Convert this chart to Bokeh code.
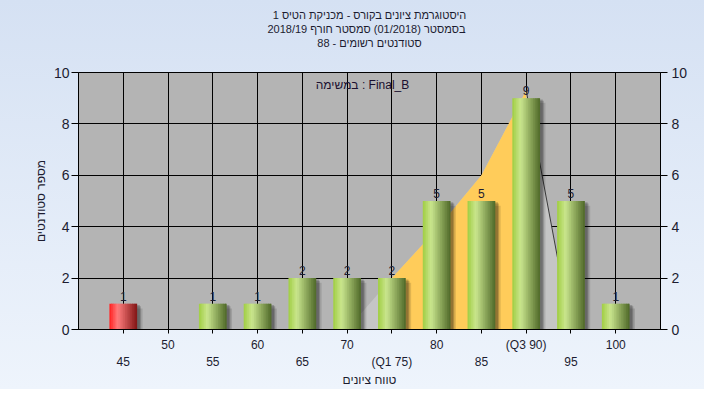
from bokeh.plotting import figure
from bokeh.models import Range1d, LinearAxis, FixedTicker, Label, Title, ColumnDataSource
from bokeh.embed import file_html
from bokeh.resources import INLINE
import numpy as np

# ---------------- data ----------------
title_lines = [
    "היסטוגרמת ציונים בקורס - מכניקת הטיס 1",
    "בסמסטר  (01/2018)  סמסטר חורף 2018/19",
    "סטודנטים רשומים - 88",
]
task_label = "במשימה : Final_B"
x_title = "טווח ציונים"
y_title = "מספר סטודנטים"

grades = [45, 50, 55, 60, 65, 70, 75, 80, 85, 90, 95, 100]
counts = [1, 0, 1, 1, 2, 2, 2, 5, 5, 9, 5, 1]
special_labels = {75: "(Q1 75)", 90: "(Q3 90)"}
q1, q3 = 75, 90
pass_grade = 55

curve_x = [70, 75, 80, 85, 90, 95, 100]
curve_y = [0, 2, 3.9, 6, 9.3, 0, 0]

y_ticks = [0, 2, 4, 6, 8, 10]

# ---------------- style ----------------
FONT = "Liberation Sans"
TXT = "#1c1c30"
BAR_W = 3.1
N_STRIPS = 16
X0, X1, Y0, Y1 = 40, 105, 0, 10


def ramp(t, left, hi, right, tpk=0.3):
    left, hi, right = map(np.array, (left, hi, right))
    if t <= tpk:
        c = left + (hi - left) * (t / tpk)
    else:
        c = hi + (right - hi) * ((t - tpk) / (1 - tpk))
    return "#%02x%02x%02x" % tuple(int(round(v)) for v in c)


p = figure(
    width=704, height=389,
    output_backend="svg", toolbar_location=None,
    x_range=Range1d(X0, X1), y_range=Range1d(Y0, Y1),
    title=None,
    min_border_left=78, min_border_right=44, min_border_top=72, min_border_bottom=59,
    background_fill_color="#b4b4b4",
    border_fill_color=None,
    outline_line_color="black",
    styles={"background": "linear-gradient(#d5e1f3, #eef4fc)"},
)

# spacer between frame and title block, then title lines nearest-first
p.add_layout(Title(text=" ", standoff=8, text_font=FONT, text_font_size="12px",
                   text_line_height=1.0), "above")
for line in reversed(title_lines):
    p.add_layout(Title(text=line, align="center", offset=-9, standoff=0,
                       text_font=FONT, text_font_size="11px", text_font_style="normal",
                       text_color=TXT, text_line_height=0.92), "above")

# grid
p.xgrid.ticker = FixedTicker(ticks=grades)
p.ygrid.ticker = FixedTicker(ticks=y_ticks)
for g in (p.xgrid, p.ygrid):
    g.grid_line_color = "black"
    g.grid_line_width = 1

# distribution area
p.varea(x=curve_x, y1=0, y2=curve_y, fill_color="#c5c5c5")
mid_x = [x for x in curve_x if q1 <= x <= q3]
mid_y = [y for x, y in zip(curve_x, curve_y) if q1 <= x <= q3]
p.varea(x=mid_x, y1=0, y2=mid_y, fill_color="#ffcc5a")
tail_x = [x for x in curve_x if x >= q3]
tail_y = [y for x, y in zip(curve_x, curve_y) if x >= q3]
p.line(x=tail_x, y=tail_y, line_color="#3a3a3a", line_width=1)

# shadows
g_arr = np.array(grades, dtype=float)
c_arr = np.array(counts, dtype=float)
nz = c_arr > 0
for dx, dy, a in ((0.6, 0.18, 0.12), (0.42, 0.1, 0.18), (0.3, 0.05, 0.2)):
    p.vbar(x=g_arr[nz] + dx, top=c_arr[nz] - dy, bottom=-1, width=BAR_W,
           fill_color="black", fill_alpha=a, line_color=None)

# bars with cylinder gradient (overlapping strips to avoid seams)
lefts, rights, tops, cols = [], [], [], []
sw = BAR_W / N_STRIPS
for k in range(N_STRIPS):
    tt = (k + 0.5) / N_STRIPS
    green = ramp(tt, (160, 205, 66), (202, 230, 142), (78, 104, 40))
    red = ramp(tt, (255, 30, 30), (255, 125, 125), (128, 20, 20))
    for g, c in zip(grades, counts):
        l = g - BAR_W / 2 + k * sw
        r = min(l + sw * 1.6, g + BAR_W / 2)
        lefts.append(l)
        rights.append(r)
        tops.append(c)
        cols.append(red if g < pass_grade else green)
src = ColumnDataSource(dict(left=lefts, right=rights, top=tops, color=cols))
p.quad(left="left", right="right", top="top", bottom=0, fill_color="color",
       line_color=None, source=src)

# value labels
lab = ColumnDataSource(dict(x=[g for g, c in zip(grades, counts) if c > 0],
                            y=[c for c in counts if c > 0],
                            t=[str(c) for c in counts if c > 0]))
p.text(x="x", y="y", text="t", source=lab, text_align="center", text_baseline="bottom",
       y_offset=-3, text_font_size="12px", text_color=TXT, text_font={"value": FONT})

p.add_layout(Label(x=(X0 + X1) / 2, y=9.5, x_offset=-7, text=task_label, text_align="center",
                   text_baseline="middle", text_font=FONT, text_font_size="12px",
                   text_color="#1a1030"))

# x axes (staggered labels)
ax1 = p.xaxis[0]
ax1.ticker = FixedTicker(ticks=grades)
ax1.major_label_overrides = {g: (special_labels.get(g, str(g)) if i % 2 == 1 else "")
                             for i, g in enumerate(grades)}
ax2 = LinearAxis(ticker=FixedTicker(ticks=grades[0::2]),
                 major_label_overrides={g: special_labels.get(g, str(g)) for g in grades[0::2]},
                 axis_label=x_title)
p.add_layout(ax2, "below")
for ax in (ax1, ax2):
    ax.minor_tick_line_color = None
    ax.major_label_text_font = FONT
    ax.major_label_text_font_size = "12px"
    ax.major_label_text_color = TXT
ax1.axis_line_color = "black"
ax1.major_tick_in = 0
ax1.major_tick_out = 4
ax1.major_label_standoff = 4
ax2.axis_line_color = None
ax2.major_tick_line_color = None
ax2.major_tick_in = 0
ax2.major_tick_out = 0
ax2.major_label_standoff = 0
ax2.axis_label_standoff = 1
ax2.axis_label_text_font = FONT
ax2.axis_label_text_font_size = "12px"
ax2.axis_label_text_font_style = "normal"
ax2.axis_label_text_color = TXT

# y axes
yl = p.yaxis[0]
yr = LinearAxis()
p.add_layout(yr, "right")
for ax in (yl, yr):
    ax.ticker = FixedTicker(ticks=y_ticks)
    ax.minor_tick_line_color = None
    ax.major_tick_in = 0
    ax.major_tick_out = 7
    ax.major_label_text_font = FONT
    ax.major_label_text_font_size = "14px"
    ax.major_label_text_color = TXT
    ax.axis_line_color = "black"
yl.major_label_standoff = 2
yr.major_label_standoff = 4
yl.axis_label = y_title
yl.axis_label_standoff = 3
yl.axis_label_text_font = FONT
yl.axis_label_text_font_size = "12px"
yl.axis_label_text_font_style = "normal"
yl.axis_label_text_color = TXT

open("out.html", "w").write(file_html(p, INLINE))
